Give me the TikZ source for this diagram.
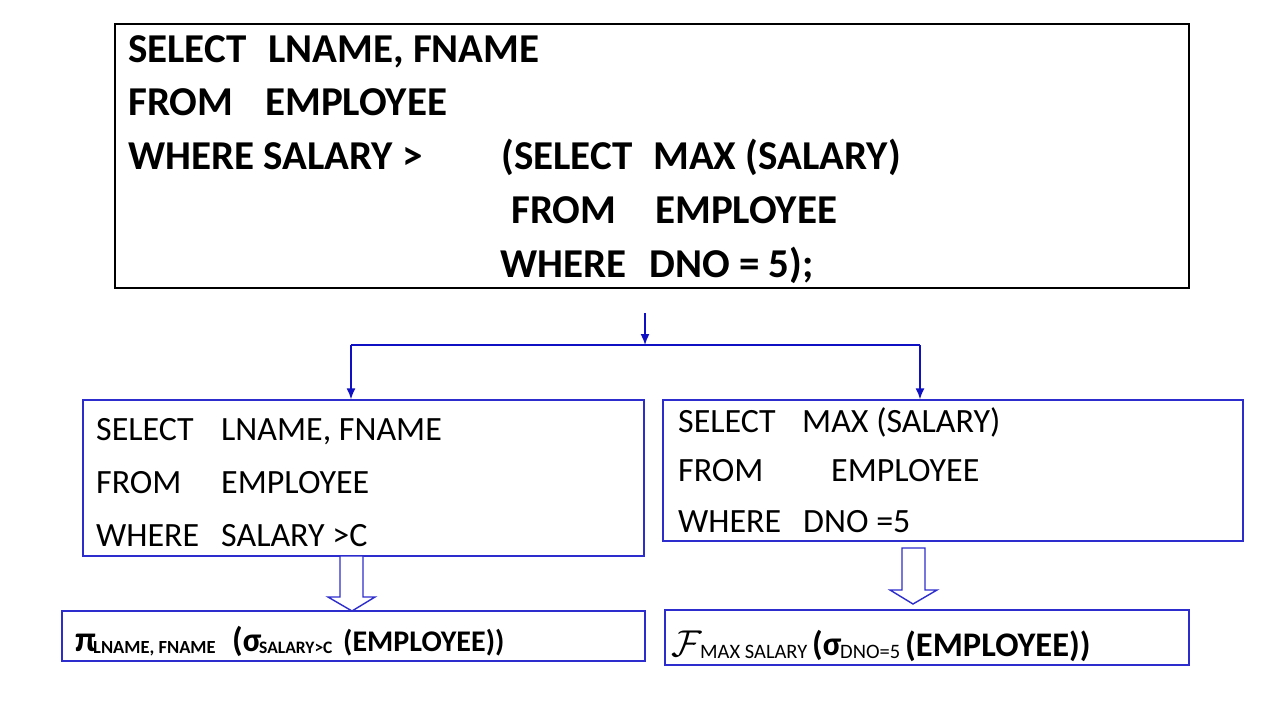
\documentclass[tikz,border=0pt]{standalone}
\usepackage{fontspec}
\setmainfont{Carlito}
\usetikzlibrary{arrows.meta}
\definecolor{boxblue}{RGB}{45,45,205}
\definecolor{linkblue}{RGB}{15,15,195}
\tikzset{
  qbox/.style={draw=black,line width=1.2pt,inner sep=0pt},
  bbox/.style={draw=boxblue,line width=1.3pt,inner sep=0pt},
  big/.style={anchor=base west,inner sep=0pt,font=\fontsize{41}{44}\selectfont\bfseries},
  sm/.style={anchor=base west,inner sep=0pt,font=\fontsize{34}{38}\selectfont},
  sub/.style={anchor=base west,inner sep=0pt,font=\fontsize{#1}{#1}\selectfont},
  subb/.style={anchor=base west,inner sep=0pt,font=\fontsize{#1}{#1}\selectfont\bfseries},
  wire/.style={linkblue,line width=1.6pt},
  link/.style={wire,-{Latex[length=11pt,width=9pt]}},
  hollow/.style={draw=boxblue,fill=white,line width=1.4pt,line join=miter}
}
\begin{document}
\begin{tikzpicture}[x=1pt,y=-1pt]
\useasboundingbox (0,0) rectangle (1265,704);
% boxes
\node[qbox,minimum width=1074pt,minimum height=264pt] (query) at (652,156) {};
\node[bbox,minimum width=561pt,minimum height=156pt] (outer) at (363.5,478) {};
\node[bbox,minimum width=580pt,minimum height=141pt] (inner) at (953,470.5) {};
\node[bbox,minimum width=583pt,minimum height=50pt] (algL) at (353.5,636) {};
\node[bbox,minimum width=524pt,minimum height=55pt] (algR) at (927,637.5) {};
% nested query
\node[big] (q1) at (128,62) {SELECT};
\node[big] (q1b) at (268,62) {LNAME, FNAME};
\node[big] (q2) at (128,115) {FROM};
\node[big] (q2b) at (265,115) {EMPLOYEE};
\node[big] (q3) at (128,169) {WHERE SALARY >};
\node[big] (q3b) at (501,169) {(SELECT};
\node[big] (q3c) at (653,169) {MAX (SALARY)};
\node[big] (q4) at (511,223) {FROM};
\node[big] (q4b) at (655,223) {EMPLOYEE};
\node[big] (q5) at (500,277) {WHERE};
\node[big] (q5b) at (649,277) {DNO = 5);};
% outer block
\node[sm] (o1) at (96,440) {SELECT};
\node[sm] (o1b) at (221,440) {LNAME, FNAME};
\node[sm] (o2) at (96,493) {FROM};
\node[sm] (o2b) at (221,493) {EMPLOYEE};
\node[sm] (o3) at (96,546) {WHERE};
\node[sm] (o3b) at (221,546) {SALARY >C};
% inner block
\node[sm] (i1) at (678,432) {SELECT};
\node[sm] (i1b) at (802,432) {MAX (SALARY)};
\node[sm] (i2) at (678,481) {FROM};
\node[sm] (i2b) at (831,481) {EMPLOYEE};
\node[sm] (i3) at (678,532) {WHERE};
\node[sm] (i3b) at (803,532) {DNO =5};
% algebra
\node[subb=36] (pi) at (75,651) {π};
\node[subb=18.5] (piS) at (93,653) {LNAME, FNAME};
\node[subb=34] (sgL) at (232,651) {(σ};
\node[subb=17.5] (sgLS) at (259,653) {SALARY>C};
\node[subb=30] (empL) at (343,651) {(EMPLOYEE))};
\node[sub=24.88,scale=1.5] (agg) at (671,656) {$\mathcal{F}$};
\node[sub=20.5] (aggS) at (700,658) {MAX SALARY};
\node[subb=34] (sgR) at (812,655) {(σ};
\node[sub=20.5] (sgRS) at (840,658) {DNO=5};
\node[subb=34.5] (empR) at (905,656) {(EMPLOYEE))};
% split
\coordinate (tail) at (645,313);
\coordinate (fork) at (645,345);
\coordinate (forkL) at (351,345);
\coordinate (forkR) at (920,345);
\draw[link] (tail) -- (fork);
\draw[wire] (forkL) -- (forkR);
\draw[link] (forkL) -- (forkL |- outer.north);
\draw[link] (forkR) -- (forkR |- inner.north);
% block arrows
\draw[hollow] (340,556) -- (340,597) -- (328,597) -- (352,611) -- (375,597) -- (363,597) -- (363,556) -- cycle;
\draw[hollow] (902,548) -- (902,590) -- (890,590) -- (913,604) -- (937,590) -- (925,590) -- (925,548) -- cycle;
\end{tikzpicture}
\end{document}
